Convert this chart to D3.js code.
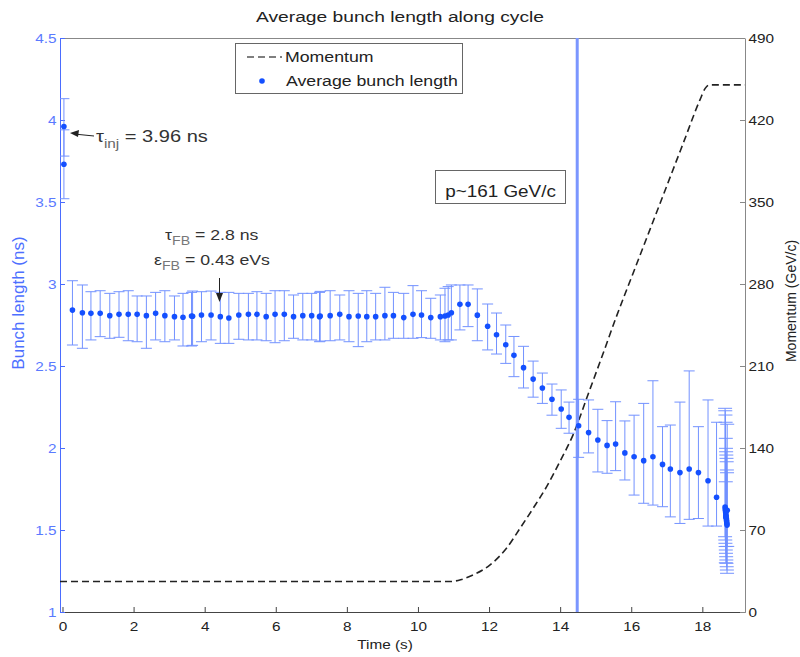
<!DOCTYPE html>
<html><head><meta charset="utf-8">
<script src="https://cdn.jsdelivr.net/npm/d3@7/dist/d3.min.js"></script>
<style>body{margin:0;background:#fff}svg{display:block}text{font-family:"Liberation Sans",Arial,sans-serif}</style>
</head><body><svg id="c" width="800" height="657"></svg>
<script>
// ---------- data ----------
const bunchTime = [0.04,0.04,0.28,0.56,0.80,1.06,1.33,1.59,1.85,2.10,2.36,2.62,2.88,3.15,3.39,3.63,3.66,3.91,4.18,4.44,4.68,4.96,5.23,5.47,5.73,5.98,6.24,6.50,6.76,7.01,7.23,7.25,7.53,7.80,8.06,8.32,8.56,8.81,9.07,9.31,9.60,9.86,10.10,10.36,10.63,10.76,10.85,10.94,11.18,11.41,11.67,11.96,12.21,12.47,12.70,12.97,13.24,13.50,13.77,14.03,14.25,14.52,14.80,15.06,15.32,15.56,15.82,16.08,16.35,16.61,16.88,17.10,17.37,17.63,17.89,18.16,18.40,
  18.64,18.645,18.65,18.655,18.66,18.665,18.67,18.675,18.68,18.685,18.69,18.695,18.70,18.66];
const bunchLength = [3.96,3.73,2.841,2.825,2.821,2.821,2.807,2.815,2.815,2.815,2.807,2.821,2.807,2.801,2.797,2.805,2.803,2.811,2.811,2.801,2.793,2.811,2.815,2.815,2.801,2.815,2.815,2.801,2.807,2.807,2.801,2.805,2.807,2.815,2.801,2.805,2.801,2.801,2.807,2.807,2.795,2.815,2.811,2.795,2.801,2.805,2.811,2.825,2.876,2.876,2.81,2.742,2.691,2.63,2.565,2.49,2.42,2.366,2.297,2.238,2.187,2.136,2.094,2.049,2.016,2.024,1.97,1.947,1.923,1.947,1.90,1.872,1.85,1.872,1.85,1.80,1.70,
  1.64,1.63,1.62,1.61,1.60,1.59,1.58,1.57,1.56,1.55,1.54,1.53,1.62,1.58];
const bunchHigh = [4.13,3.94,3.020,2.994,2.953,2.959,2.943,2.953,2.959,2.927,2.927,2.949,2.959,2.927,2.943,2.949,2.957,2.953,2.957,2.949,2.949,2.943,2.943,2.953,2.943,2.959,2.959,2.933,2.943,2.943,2.949,2.955,2.959,2.933,2.959,2.943,2.959,2.943,2.980,2.949,2.943,2.990,2.959,2.913,2.933,2.974,2.984,2.994,2.994,2.994,2.97,2.878,2.823,2.75,2.68,2.62,2.53,2.457,2.39,2.354,2.28,2.297,2.293,2.236,2.167,2.282,2.165,2.20,2.272,2.41,2.13,2.14,2.28,2.47,2.13,2.293,2.157,
  2.242,2.227,2.201,2.157,2.059,1.998,1.977,1.957,1.937,1.916,1.866,1.849,2.145,1.794];
const bunchLow = [3.78,3.52,2.628,2.608,2.659,2.679,2.669,2.675,2.654,2.648,2.608,2.659,2.648,2.659,2.622,2.622,2.626,2.648,2.659,2.638,2.638,2.663,2.659,2.659,2.654,2.642,2.654,2.669,2.659,2.659,2.648,2.652,2.654,2.659,2.648,2.618,2.648,2.659,2.659,2.669,2.669,2.669,2.673,2.669,2.659,2.648,2.659,2.659,2.72,2.74,2.654,2.598,2.573,2.516,2.435,2.366,2.31,2.272,2.20,2.12,2.09,1.943,1.97,1.854,1.846,1.862,1.805,1.713,1.663,1.652,1.642,1.58,1.54,1.565,1.57,1.524,1.524,
  1.459,1.439,1.419,1.399,1.378,1.358,1.337,1.317,1.297,1.276,1.256,1.236,1.40,1.30];
const momTime = [-0.07,10.9,11.2,11.55,12.02,12.49,12.87,13.24,13.62,13.99,14.36,14.8,15.2,15.58,16.05,16.52,16.99,17.46,17.93,18.08,18.2,19.2];
const momValue = [26,26,27.5,31.6,40,54.4,71.4,88.5,107,128.3,151,187,220,252,289,326,363,400,437,447,450,450];
const markerTime = 14.48;
const markerLabel = "p~161 GeV/c";
const xTicks = [0,2,4,6,8,10,12,14,16,18];
const yLeftTicks = [1,1.5,2,2.5,3,3.5,4,4.5];
const yRightTicks = [0,70,140,210,280,350,420,490];

// ---------- layout ----------
const svg = d3.select("#c");
const L = 60, R = 745, T = 38, B = 612;
const SX = 1.18; // horizontal text stretch of the reference
const x = d3.scaleLinear().domain([-0.07, 19.2]).range([L, R]);
const y = d3.scaleLinear().domain([1, 4.5]).range([B, T]);
const y2 = d3.scaleLinear().domain([0, 490]).range([B, T]);
const BLUE_AX = "#4a6cff", BAR = "#7392ff", DOT = "#1450ff", DARK = "#222";

function stext(g, str, px, py, size, anchor, color){
  return g.append("text").attr("transform",`translate(${px},${py}) scale(${SX},1)`)
    .attr("text-anchor",anchor||"start").attr("font-size",size).attr("fill",color||DARK).text(str);
}

svg.append("defs").append("clipPath").attr("id","clip").append("rect")
  .attr("x",L).attr("y",T).attr("width",R-L).attr("height",B-T);

// box top line
svg.append("line").attr("x1",L).attr("x2",R).attr("y1",T+0.5).attr("y2",T+0.5).attr("stroke","#888");

// axes
const gx = svg.append("g").attr("transform",`translate(0,${B})`)
  .call(d3.axisBottom(x).tickValues(xTicks).tickSizeInner(-5).tickSizeOuter(0).tickPadding(10));
gx.select(".domain").attr("stroke","#444");
gx.selectAll(".tick line").attr("stroke","#444");
gx.selectAll("text").attr("font-size",13).attr("fill",DARK).attr("font-family",null).attr("transform",`scale(${SX},1)`);

const gy = svg.append("g").attr("transform",`translate(${L},0)`)
  .call(d3.axisLeft(y).tickValues(yLeftTicks).tickFormat(d3.format("")).tickSizeInner(-5).tickSizeOuter(0).tickPadding(3));
gy.select(".domain").attr("stroke",BLUE_AX);
gy.selectAll(".tick line").attr("stroke",BLUE_AX);
gy.selectAll("text").attr("font-size",13).attr("fill","#5a7aff").attr("font-family",null).attr("transform",`scale(${SX},1)`);

const gy2 = svg.append("g").attr("transform",`translate(${R},0)`)
  .call(d3.axisRight(y2).tickValues(yRightTicks).tickSizeInner(-5).tickSizeOuter(0).tickPadding(3));
gy2.select(".domain").attr("stroke","#888");
gy2.selectAll(".tick line").attr("stroke","#888");
gy2.selectAll("text").attr("font-size",13).attr("fill",DARK).attr("font-family",null).attr("transform",`scale(${SX},1)`);

// labels
svg.append("text").attr("x",400).attr("y",22).attr("text-anchor","middle").attr("font-size",14)
  .attr("fill",DARK).attr("textLength",288).attr("lengthAdjust","spacingAndGlyphs").text("Average bunch length along cycle");
stext(svg,"Time (s)",385,649,13,"middle",DARK);
svg.append("text").attr("transform","translate(24,303) rotate(-90)").attr("text-anchor","middle")
  .attr("font-size",17).attr("fill","#4d6fff").text("Bunch length (ns)");
svg.append("text").attr("transform","translate(796,301) rotate(-90)").attr("text-anchor","middle")
  .attr("font-size",14).attr("fill",DARK).text("Momentum (GeV/c)");

const clipG = svg.append("g").attr("clip-path","url(#clip)");

// momentum curve
const mline = d3.line().x((d,i)=>x(momTime[i])).y((d,i)=>y2(momValue[i])).curve(d3.curveMonotoneX);
clipG.append("path").datum(momValue).attr("d",mline).attr("fill","none")
  .attr("stroke","#222").attr("stroke-width",1.6).attr("stroke-dasharray","7,4");

// vertical marker
clipG.append("line").attr("x1",x(markerTime)).attr("x2",x(markerTime)).attr("y1",T).attr("y2",B)
  .attr("stroke","#7b96ff").attr("stroke-width",3);

// error bars
const idx = d3.range(bunchTime.length);
const eb = clipG.append("g").attr("stroke",BAR).attr("stroke-width",1).attr("fill","none");
idx.forEach(i=>{
  const cx = x(bunchTime[i]);
  const w = i>=77 ? 7 : 5.5;
  eb.append("line").attr("x1",cx).attr("x2",cx).attr("y1",y(bunchHigh[i])).attr("y2",y(bunchLow[i]));
  eb.append("line").attr("x1",cx-w).attr("x2",cx+w).attr("y1",y(bunchHigh[i])).attr("y2",y(bunchHigh[i]));
  eb.append("line").attr("x1",cx-w).attr("x2",cx+w).attr("y1",y(bunchLow[i])).attr("y2",y(bunchLow[i]));
});
clipG.append("g").selectAll("circle").data(idx).join("circle")
  .attr("cx",i=>x(bunchTime[i])).attr("cy",i=>y(bunchLength[i])).attr("r",2.8).attr("fill",DOT);

// marker label box
const mb = svg.append("g");
mb.append("rect").attr("x",435.5).attr("y",170.5).attr("width",130).attr("height",33)
  .attr("fill","#fff").attr("stroke","#666");
stext(mb,markerLabel,500.5,197,16,"middle",DARK);

// legend
const lg = svg.append("g");
lg.append("rect").attr("x",235.5).attr("y",43.5).attr("width",227).attr("height",50)
  .attr("fill","#fff").attr("stroke","#666");
lg.append("line").attr("x1",247).attr("x2",282).attr("y1",57).attr("y2",57)
  .attr("stroke","#555").attr("stroke-width",1.6).attr("stroke-dasharray","7,4");
stext(lg,"Momentum",285,62,15,"start",DARK);
lg.append("circle").attr("cx",262).attr("cy",81).attr("r",2.8).attr("fill",DOT);
stext(lg,"Average bunch length",286,86,15,"start",DARK);

// annotations
const an = svg.append("g");
an.append("line").attr("x1",94).attr("y1",136).attr("x2",74).attr("y2",134).attr("stroke","#222").attr("stroke-width",1);
an.append("path").attr("d","M70,133 L79,130 L78,137 Z").attr("fill","#222");
const t1 = stext(an,"",96,142,17,"start","#333");
t1.append("tspan").text("τ");
t1.append("tspan").attr("dy",6).attr("font-size",13).attr("fill","#666").text("inj");
t1.append("tspan").attr("dy",-6).text(" = 3.96 ns");
const t2 = stext(an,"",165,240,15,"start","#333");
t2.append("tspan").text("τ");
t2.append("tspan").attr("dy",5).attr("font-size",12).attr("fill","#777").text("FB");
t2.append("tspan").attr("dy",-5).text(" = 2.8 ns");
const t3 = stext(an,"",154,265,15,"start","#333");
t3.append("tspan").text("ε");
t3.append("tspan").attr("dy",5).attr("font-size",12).attr("fill","#777").text("FB");
t3.append("tspan").attr("dy",-5).text(" = 0.43 eVs");
an.append("line").attr("x1",219.5).attr("y1",278).attr("x2",219.5).attr("y2",296).attr("stroke","#222");
an.append("path").attr("d","M219.5,302 L216,293 L223,293 Z").attr("fill","#222");
</script></body></html>
